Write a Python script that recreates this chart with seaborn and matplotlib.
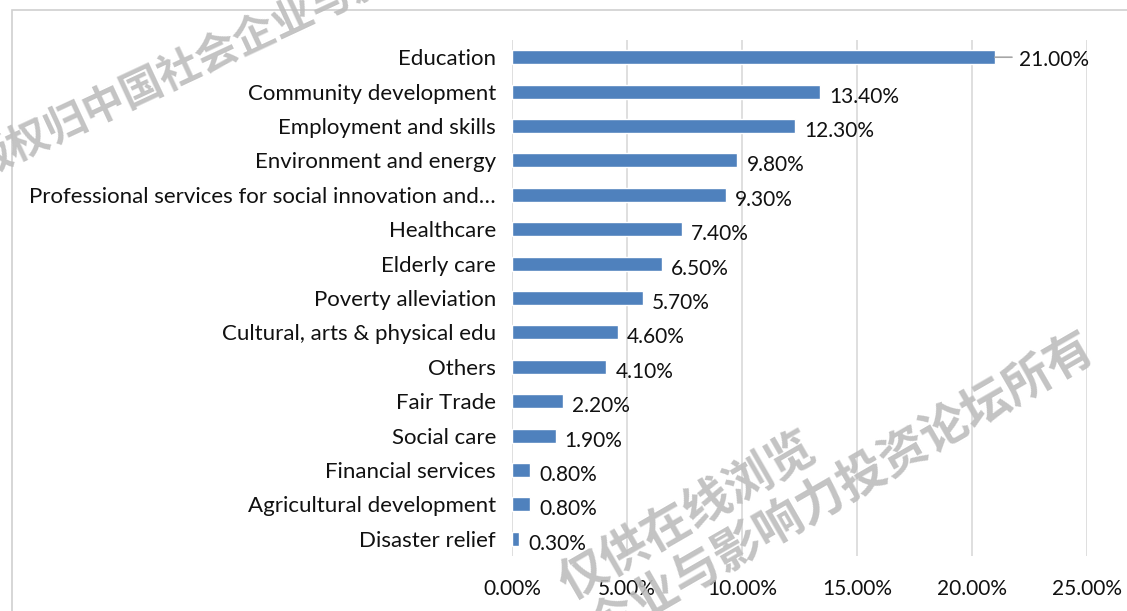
import matplotlib
matplotlib.use("Agg")
import matplotlib.pyplot as plt
import seaborn as sns
import pandas as pd
from matplotlib.patches import Rectangle
from matplotlib.ticker import FuncFormatter

categories = [
    "Education",
    "Community development",
    "Employment and skills",
    "Environment and energy",
    "Professional services for social innovation and\u2026",
    "Healthcare",
    "Elderly care",
    "Poverty alleviation",
    "Cultural, arts & physical edu",
    "Others",
    "Fair Trade",
    "Social care",
    "Financial services",
    "Agricultural development",
    "Disaster relief",
]
shares = [21.0, 13.4, 12.3, 9.8, 9.3, 7.4, 6.5, 5.7, 4.6, 4.1, 2.2, 1.9, 0.8, 0.8, 0.3]
x_ticks = [0, 5, 10, 15, 20, 25]

df = pd.DataFrame({"category": categories, "share": shares})

sns.set_theme(style="white")
plt.rcParams["font.family"] = ["Lato", "DejaVu Sans"]

W, H = 1127, 611
fig = plt.figure(figsize=(W / 100, H / 100), dpi=100)
fig.patch.set_facecolor("white")

# outer chart frame
fig.patches.append(Rectangle((12 / W, -0.1), 1.2, 1 - 10 / H + 0.1,
                             transform=fig.transFigure, fill=False,
                             edgecolor="#d0d0d0", linewidth=1.2))

ax = fig.add_axes([512 / W, 1 - 556 / H, 575 / W, 516 / H])
sns.barplot(data=df, x="share", y="category", color="#4F81BD",
            width=0.41, saturation=1, ax=ax, zorder=3)

ax.set_xlim(0, 25)
ax.set_xticks(x_ticks)
ax.xaxis.set_major_formatter(FuncFormatter(lambda v, _: f"{v:.2f}%"))
ax.grid(axis="x", color="#d9d9d9", linewidth=1.2, zorder=0)
ax.set_axisbelow(True)
for s in ax.spines.values():
    s.set_visible(False)
ax.set_xlabel("")
ax.set_ylabel("")
ax.tick_params(axis="y", length=0, pad=11.5, labelsize=16, labelcolor="#111111")
ax.tick_params(axis="x", length=0, pad=16.5, labelsize=15, labelcolor="#111111")

# value labels
for i, v in enumerate(shares):
    label = f"{v:.2f}%"
    if i == 0:
        ax.annotate("", xy=(v, i), xytext=(17, 0), textcoords="offset pixels",
                    arrowprops=dict(arrowstyle="-", color="#a6a6a6", lw=1.2,
                                    shrinkA=0, shrinkB=0))
        ax.annotate(label, xy=(v, i), xytext=(24, -3), textcoords="offset pixels",
                    ha="left", va="center", fontsize=15, color="#111111")
    else:
        ax.annotate(label, xy=(v, i), xytext=(9, -5), textcoords="offset pixels",
                    ha="left", va="center", fontsize=15, color="#111111")

# watermark
wm = dict(transform=fig.transFigure, color="#bdbdbd",
          family=["Noto Sans CJK SC", "DejaVu Sans"], fontweight="bold",
          rotation_mode="anchor", ha="left", va="baseline", alpha=0.9, zorder=10)
fig.text(-22 / W, 1 - 178 / H, "版权归中国社会企业与影响力投资论坛所有",
         fontsize=30, rotation=25, **wm)
fig.text(570 / W, 1 - 600 / H, "仅供在线浏览", fontsize=34.5, rotation=30, **wm)
fig.text(310 / W, 1 - 812 / H, "版权归中国社会企业与影响力投资论坛所有",
         fontsize=34.5, rotation=30, **wm)

fig.savefig("out.png", dpi=100, facecolor="white")
